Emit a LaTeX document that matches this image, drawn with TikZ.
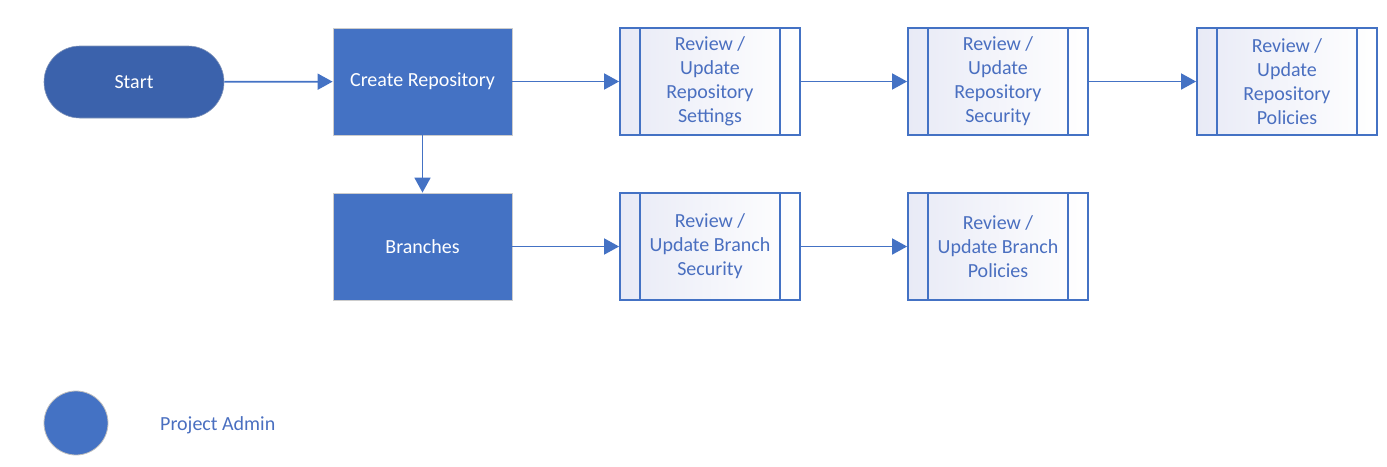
\documentclass[tikz,border=0pt]{standalone}
\usepackage{fontspec}
\setmainfont{Carlito}
\usetikzlibrary{arrows.meta,shapes.misc}
\definecolor{boxblue}{HTML}{4472C4}
\definecolor{startblue}{HTML}{3B62AC}
\definecolor{txtblue}{HTML}{4A6FC0}
\definecolor{lav}{HTML}{E8EAF6}
\tikzset{
  solidbox/.style={draw=black!20, line width=0.8pt, fill=boxblue, text=white, minimum width=179pt, minimum height=107pt, inner sep=0pt, font=\fontsize{20}{24}\selectfont},
  subproc/.style={draw=boxblue, line width=1.8pt, left color=lav, right color=white, text=txtblue, minimum width=180pt, minimum height=107pt, inner sep=0pt, align=center, font=\fontsize{20}{24}\selectfont},
  conn/.style={draw=boxblue, line width=1.8pt, -{Triangle[length=15pt,width=16pt]}},
}
\begin{document}
\begin{tikzpicture}[x=1pt,y=-1pt]
\useasboundingbox (0,0) rectangle (1387,466);
\node[rounded rectangle, fill=startblue, draw=startblue!80!black!60, line width=0.6pt, text=white, minimum width=180pt, minimum height=72pt, inner sep=0pt, font=\fontsize{20}{24}\selectfont] (start) at (134,82) {Start};
\node[solidbox] (create) at (422.5,81.5) {Create Repository};
\node[solidbox] (branches) at (422.5,246.5) {Branches};
\foreach \n/\x/\y/\t in {s1/710/81.5/{Review /\\Update\\Repository\\Settings},
                         s2/998/81.5/{Review /\\Update\\Repository\\Security},
                         s3/1287/81.5/{Review /\\Update\\Repository\\Policies},
                         b1/710/246.5/{Review /\\Update Branch\\Security},
                         b2/998/246.5/{Review /\\Update Branch\\Policies}}{
  \node[subproc] (\n) at (\x,\y) {\t};
  \draw[boxblue, line width=1.8pt] ([xshift=21pt]\n.north west) -- ([xshift=21pt]\n.south west)
        ([xshift=-21pt]\n.north east) -- ([xshift=-21pt]\n.south east);
}
\draw[conn] (start) -- (create);
\draw[conn] (create) -- (s1);
\draw[conn] (s1) -- (s2);
\draw[conn] (s2) -- (s3);
\draw[conn] (create) -- (branches);
\draw[conn] (branches) -- (b1);
\draw[conn] (b1) -- (b2);
\node[circle, fill=boxblue, draw=black!25, line width=0.8pt, minimum size=64pt, inner sep=0pt] (legend) at (76,423) {};
\node[anchor=west, text=txtblue, font=\fontsize{20}{24}\selectfont, inner sep=0pt] (legtext) at (160,425) {Project Admin};
\end{tikzpicture}
\end{document}
